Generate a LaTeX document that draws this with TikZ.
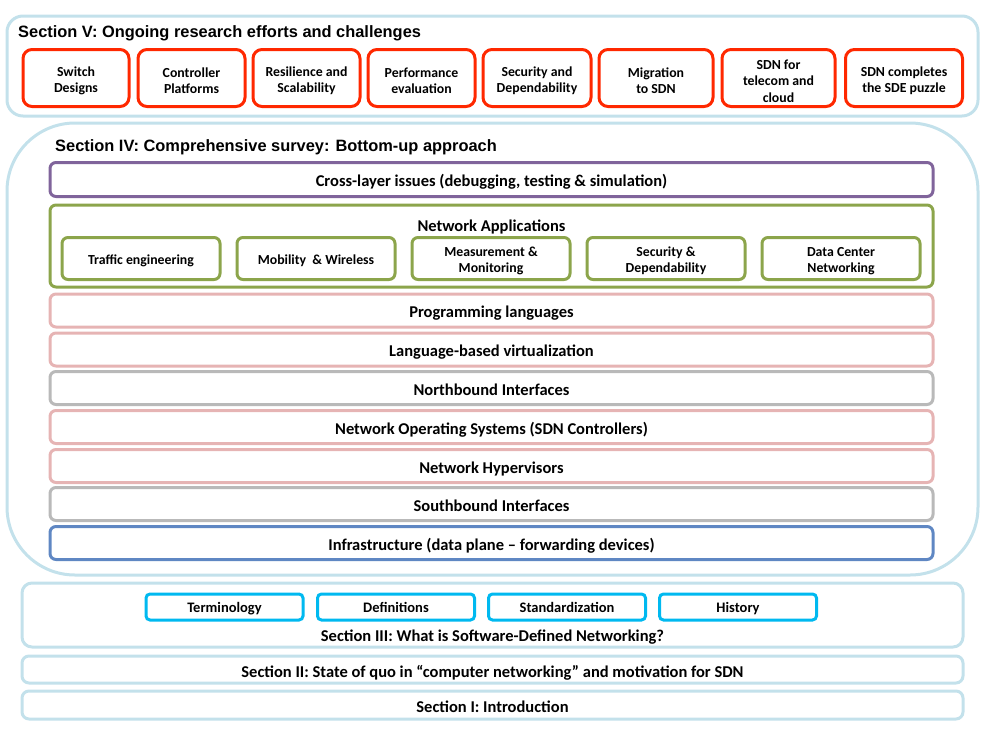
\documentclass[tikz,border=0pt]{standalone}
\usepackage{fontspec}
\setmainfont{Carlito}
\newfontfamily\arialf{Liberation Sans}
\definecolor{secblue}{RGB}{195,225,235}
\definecolor{redc}{RGB}{255,40,0}
\definecolor{purplec}{RGB}{128,100,155}
\definecolor{greenc}{RGB}{140,165,75}
\definecolor{pinkc}{RGB}{230,180,180}
\definecolor{grayc}{RGB}{185,185,185}
\definecolor{bluec}{RGB}{95,135,195}
\definecolor{cyanc}{RGB}{0,185,240}
\tikzset{
  secbox/.style={draw=secblue, line width=3pt, rounded corners=16pt, inner sep=0pt},
  redbox/.style={draw=redc, line width=3pt, rounded corners=9pt, minimum height=57pt, inner sep=0pt},
  rtxt/.style={align=center, font=\bfseries\fontsize{13.8}{16.3}\selectfont, inner sep=0pt, yshift=-3pt},
  layer/.style={draw=#1, line width=3pt, rounded corners=6pt, minimum width=883pt, minimum height=33pt, font=\bfseries\fontsize{16.5}{19}\selectfont, inner sep=0pt, text height=14.4pt, text depth=0pt},
  subbox/.style={draw=greenc, line width=3pt, rounded corners=6pt, minimum width=158pt, minimum height=42pt, inner sep=0pt},
  stxt/.style={align=center, font=\bfseries\fontsize{13.8}{16}\selectfont, inner sep=0pt, yshift=-2.5pt},
  cybox/.style={draw=cyanc, line width=3pt, rounded corners=4pt, minimum width=157pt, minimum height=26pt, font=\bfseries\fontsize{14.5}{16}\selectfont, inner sep=0pt, text height=11.3pt, text depth=0pt},
  lbl/.style={font=\bfseries\fontsize{16.5}{19}\selectfont, inner sep=0pt, text height=14.4pt, text depth=0pt},
  title/.style={font=\arialf\bfseries\fontsize{16.4}{19}\selectfont, inner sep=0pt, anchor=west},
}
\begin{document}
\begin{tikzpicture}[x=1pt,y=-1pt]
\useasboundingbox (0,0) rectangle (991,737);
% Section V
\node[secbox, minimum width=971pt, minimum height=100pt] (secV) at (492.5,66) {};
\node[title] (secVt) at (18,33) {Section V: Ongoing research efforts and challenges};
\node[redbox, minimum width=106pt, label={[rtxt]center:Switch\\Designs}] (r1) at (76,78) {};
\node[redbox, minimum width=107pt, label={[rtxt]center:Controller\\Platforms}] (r2) at (191.5,78) {};
\node[redbox, minimum width=107pt, label={[rtxt]center:Resilience and\\Scalability}] (r3) at (306.5,78) {};
\node[redbox, minimum width=107pt, label={[rtxt]center:Performance\\evaluation}] (r4) at (421.5,78) {};
\node[redbox, minimum width=108pt, label={[rtxt]center:Security and\\Dependability}] (r5) at (537,78) {};
\node[redbox, minimum width=114pt, label={[rtxt]center:Migration\\to SDN}] (r6) at (656,78) {};
\node[redbox, minimum width=113pt, label={[rtxt]center:SDN for\\telecom and\\cloud}] (r7) at (778.5,78) {};
\node[redbox, minimum width=117pt, label={[rtxt]center:SDN completes\\the SDE puzzle}] (r8) at (904,78) {};
% Section IV
\node[secbox, rounded corners=68pt, minimum width=971pt, minimum height=452pt] (secIV) at (492.5,349) {};
\node[title] (secIVt) at (55,147) {Section IV: Comprehensive survey: Bottom-up approach};
\node[layer=purplec, minimum height=34pt] (cross) at (491.5,179.5) {Cross-layer issues (debugging, testing \& simulation)};
\node[layer=greenc, minimum height=82pt] (napp) at (491.5,246) {};
\node[lbl] (nappt) at (491.5,224.5) {Network Applications};
\node[subbox, label={[stxt]center:Traffic engineering}] (s1) at (141,258.5) {};
\node[subbox, label={[stxt]center:Mobility\ \ \& Wireless}] (s2) at (316,258.5) {};
\node[subbox, label={[stxt]center:Measurement \&\\Monitoring}] (s3) at (491,258.5) {};
\node[subbox, label={[stxt]center:Security \&\\Dependability}] (s4) at (666,258.5) {};
\node[subbox, label={[stxt]center:Data Center\\Networking}] (s5) at (841,258.5) {};
\node[layer=pinkc] (pl) at (491.5,310.5) {Programming languages};
\node[layer=pinkc] (lbv) at (491.5,349.5) {Language-based virtualization};
\node[layer=grayc] (nbi) at (491.5,388) {Northbound Interfaces};
\node[layer=pinkc] (nos) at (491.5,427) {Network Operating Systems (SDN Controllers)};
\node[layer=pinkc] (hyp) at (491.5,466) {Network Hypervisors};
\node[layer=grayc] (sbi) at (491.5,504) {Southbound Interfaces};
\node[layer=bluec] (infra) at (491.5,543) {Infrastructure (data plane – forwarding devices)};
% Section III
\node[secbox, rounded corners=10pt, minimum width=941pt, minimum height=64pt] (secIII) at (492.5,615) {};
\node[cybox] (c1) at (224.5,607) {Terminology};
\node[cybox] (c2) at (396,607) {Definitions};
\node[cybox] (c3) at (567,607) {Standardization};
\node[cybox] (c4) at (738,607) {History};
\node[lbl] (secIIIt) at (492.5,634.5) {Section III: What is Software-Defined Networking?};
% Section II
\node[secbox, rounded corners=7pt, minimum width=941pt, minimum height=27pt, lbl, text height=15.5pt] (secII) at (492.5,669.5) {Section II: State of quo in “computer networking” and motivation for SDN};
% Section I
\node[secbox, rounded corners=7pt, minimum width=941pt, minimum height=28pt, lbl] (secI) at (492.5,705) {Section I: Introduction};
\end{tikzpicture}
\end{document}
